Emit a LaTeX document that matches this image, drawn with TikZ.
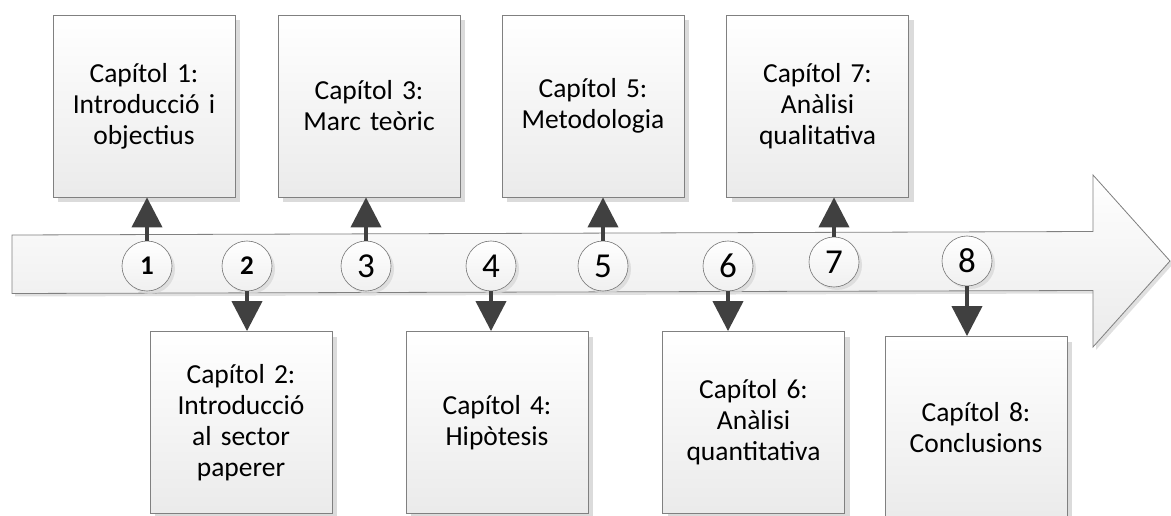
\documentclass[tikz,border=0pt]{standalone}
\usepackage{fontspec}
\setmainfont{Carlito}
\usetikzlibrary{arrows.meta,shadows}
\begin{document}
\begin{tikzpicture}[x=1pt,y=-1pt,
  chap/.style={draw=black!50, line width=0.8pt, top color=white, bottom color=black!8,
    minimum width=182pt, minimum height=182pt, text width=176pt, align=center,
    inner sep=0pt, font=\fontsize{27.5}{31}\selectfont,
    drop shadow={shadow xshift=5pt, shadow yshift=-5pt, fill=black!14, opacity=1}},
  stepnum/.style={circle, draw=black!55, line width=0.6pt, top color=white, bottom color=black!6,
    minimum size=50pt, inner sep=0pt, font=\fontsize{35}{35}\selectfont,
    drop shadow={shadow xshift=3pt, shadow yshift=-3pt, fill=black!15, opacity=0.8}},
  boldnum/.style={stepnum, font=\bfseries\fontsize{27}{27}\selectfont},
  link/.style={draw=black!75, line width=4pt, -{Triangle[width=30pt,length=30pt]}}
]
\useasboundingbox (0,0) rectangle (1171,516);

% timeline arrow
\path[draw=black!50, line width=0.8pt, top color=white, bottom color=black!8,
      drop shadow={shadow xshift=3pt, shadow yshift=-3pt, fill=black!12, opacity=1}]
  (12,235) -- (1093,231.5) -- (1093,175) -- (1170,261) -- (1093,347)
  -- (1093,290.5) -- (12,293.5) -- cycle;

% chapter boxes above the timeline
\node[chap] (b1) at (144,106)   {Capítol 1:\\Introducció i\\objectius};
\node[chap] (b3) at (369,106)   {Capítol 3:\\Marc teòric};
\node[chap] (b5) at (593,106)   {Capítol 5:\\Metodologia};
\node[chap] (b7) at (817.5,106) {Capítol 7:\\Anàlisi\\qualitativa};

% chapter boxes below the timeline
\node[chap] (b2) at (241,422.5)   {Capítol 2:\\Introducció\\al sector\\paperer};
\node[chap] (b4) at (497,422.5)   {Capítol 4:\\Hipòtesis};
\node[chap] (b6) at (753.5,422.5) {Capítol 6:\\Anàlisi\\quantitativa};
\node[chap] (b8) at (976,427.5)   {Capítol 8:\\Conclusions};

% milestones
\node[boldnum] (n1) at (147,266) {1};
\node[boldnum] (n2) at (247,266) {2};
\node[stepnum] (n3) at (366,266) {3};
\node[stepnum] (n4) at (491,266) {4};
\node[stepnum] (n5) at (603,266) {5};
\node[stepnum] (n6) at (728,266) {6};
\node[stepnum] (n7) at (834,262) {7};
\node[stepnum] (n8) at (967,261) {8};

% connectors
\draw[link] (n1.north) -- (n1.north |- b1.south);
\draw[link] (n3.north) -- (n3.north |- b3.south);
\draw[link] (n5.north) -- (n5.north |- b5.south);
\draw[link] (n7.north) -- (n7.north |- b7.south);
\draw[link] (n2.south) -- (n2.south |- b2.north);
\draw[link] (n4.south) -- (n4.south |- b4.north);
\draw[link] (n6.south) -- (n6.south |- b6.north);
\draw[link] (n8.south) -- (n8.south |- b8.north);
\end{tikzpicture}
\end{document}
